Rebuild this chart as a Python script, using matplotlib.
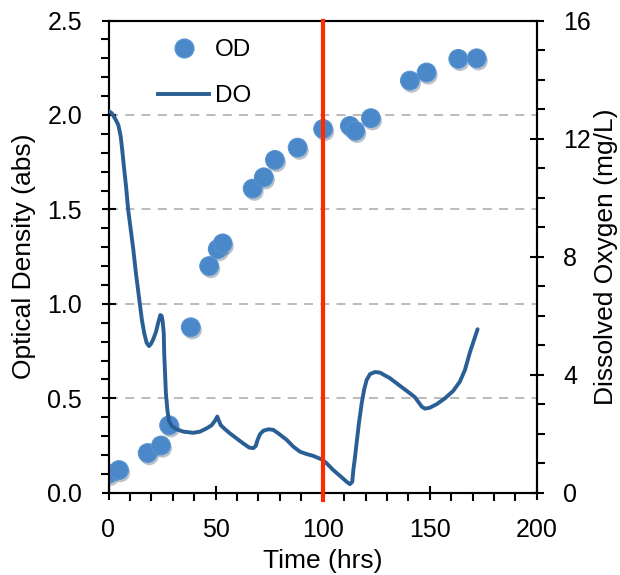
import matplotlib.pyplot as plt
import matplotlib.patheffects as pe
from matplotlib.lines import Line2D
from matplotlib.ticker import MultipleLocator, FormatStrFormatter

plt.rcParams['font.family'] = ['Liberation Sans', 'DejaVu Sans']

# optical density samples
od_time = [0, 4.9, 18.3, 24.5, 28.3, 38.4, 47.0, 51.0, 53.3, 67.3, 72.5,
           77.7, 88.3, 100.2, 112.7, 115.2, 122.5, 140.7, 148.5, 163.3, 171.9]
od_val = [0.10, 0.12, 0.21, 0.25, 0.357, 0.876, 1.20, 1.29, 1.32, 1.61, 1.67,
          1.762, 1.827, 1.926, 1.942, 1.916, 1.983, 2.182, 2.225, 2.297, 2.30]

# dissolved oxygen trace
do_time = [0, 1.5, 3.0, 4.6, 5.7, 6.4, 7.2, 8.2, 9.2, 10.4, 11.6, 12.8, 14.4,
           15.6, 16.7, 17.8, 18.9, 19.8, 20.9, 22.2, 23.2, 24.2, 24.8, 25.3,
           25.8, 26.0, 26.4, 26.8, 27.5, 28.2, 29.5, 31.8, 34.9, 39.6, 42.7,
           45.8, 48.2, 49.7, 50.8, 51.4, 52.4, 54.4, 56.7, 59.8, 62.9, 65.7,
           67.6, 68.7, 69.6, 70.7, 72.3, 74.6, 76.9, 79.3, 83.2, 86.3, 89.4,
           92.5, 95.5, 99.5, 101.8, 104.9, 108.1, 111.2, 112.7, 113.8, 114.3,
           115.1, 115.8, 116.9, 118.2, 119.3, 120.5, 122.1, 124.4, 126.7,
           131.4, 136.1, 140.7, 143.1, 144.6, 146.2, 147.7, 150.0, 153.2,
           157.1, 160.9, 164.0, 166.4, 168.7, 172.3]
do_val = [12.94, 12.86, 12.69, 12.46, 12.07, 11.62, 11.05, 10.37, 9.58, 8.91,
          8.23, 7.44, 6.53, 5.85, 5.40, 5.08, 4.97, 5.04, 5.20, 5.46, 5.76,
          6.02, 5.99, 5.80, 5.40, 4.73, 4.05, 3.37, 2.80, 2.44, 2.26, 2.15,
          2.07, 2.03, 2.07, 2.18, 2.29, 2.44, 2.58, 2.46, 2.29, 2.15, 2.01,
          1.84, 1.67, 1.53, 1.51, 1.58, 1.79, 1.98, 2.10, 2.15, 2.13, 2.01,
          1.79, 1.56, 1.39, 1.31, 1.25, 1.13, 1.00, 0.77, 0.57, 0.37, 0.29,
          0.37, 0.77, 1.22, 1.67, 2.35, 3.03, 3.48, 3.82, 4.02, 4.09, 4.07,
          3.88, 3.62, 3.37, 3.23, 3.08, 2.92, 2.85, 2.88, 3.00, 3.20, 3.45,
          3.76, 4.16, 4.75, 5.54]

switch_time = 100

fig = plt.figure(figsize=(6.2, 5.75), dpi=100)
ax = fig.add_axes([0.175, 0.1431, 0.691, 0.8212])
ax2 = ax.twinx()

shadow = [pe.SimplePatchShadow(offset=(1.2, -2.0), shadow_rgbFace='#1F3550', alpha=0.3),
          pe.Normal()]
ax.plot(od_time, od_val, 'o', ms=13.5, color='#4A88CA',
        mec='#5893D1', mew=0.8, path_effects=shadow, zorder=3)
ax2.plot(do_time, do_val, '-', color='#2A5F96', lw=2.8,
         solid_capstyle='round', solid_joinstyle='round', zorder=3)
ax2.axvline(switch_time, ymin=-0.015, ymax=1, color='#FF2A00', lw=3,
            clip_on=False, zorder=5)

for g in [0.5, 1.0, 1.5, 2.0]:
    ax.axhline(g, color='#B5B5B5', lw=1.3, ls=(0, (5, 4)), zorder=1)

ax.set_xlim(0, 200)
ax.set_ylim(0, 2.5)
ax2.set_ylim(0, 16)

ax.xaxis.set_major_locator(MultipleLocator(50))
ax.xaxis.set_minor_locator(MultipleLocator(10))
ax.yaxis.set_major_locator(MultipleLocator(0.5))
ax.yaxis.set_minor_locator(MultipleLocator(0.1))
ax.yaxis.set_major_formatter(FormatStrFormatter('%.1f'))
ax2.yaxis.set_major_locator(MultipleLocator(4))
ax2.yaxis.set_minor_locator(MultipleLocator(1))

for a in (ax, ax2):
    a.tick_params(which='major', direction='inout', length=10, width=1.5,
                  labelsize=18)
    a.tick_params(which='minor', direction='out', length=6, width=1.5)
    for s in a.spines.values():
        s.set_linewidth(1.5)
ax.tick_params(axis='x', pad=13)
ax.tick_params(axis='y', pad=14)
ax2.tick_params(axis='y', pad=14)

ax.set_xlabel('Time (hrs)', fontsize=19, labelpad=5)
ax.set_ylabel('Optical Density (abs)', fontsize=19, labelpad=8)
ax2.set_ylabel('Dissolved Oxygen (mg/L)', fontsize=19, labelpad=2)

h_od = Line2D([], [], marker='o', ls='none', ms=13.5, color='#4A88CA',
              mec='#5893D1')
h_do = Line2D([], [], color='#2A5F96', lw=2.8)
ax2.legend([h_od, h_do], ['OD', 'DO'], loc='upper left',
           bbox_to_anchor=(0.065, 1.007), frameon=False, fontsize=17.5,
           handlelength=2.1, handletextpad=0.25, labelspacing=1.0)

fig.savefig('out.png', dpi=100)
